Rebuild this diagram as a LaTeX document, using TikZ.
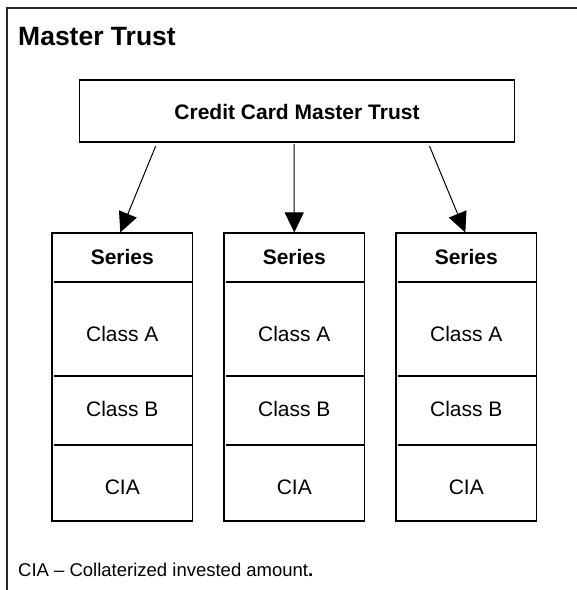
\documentclass[tikz,border=0pt]{standalone}
\usepackage{fontspec}
\setmainfont{Liberation Sans}
\usetikzlibrary{arrows.meta}
\begin{document}
\begin{tikzpicture}[x=1pt,y=-1pt,
  line width=1pt,
  frame/.style={line width=1.3pt, draw=black!85},
  boxstyle/.style={draw, line width=1.1pt, inner sep=0pt},
  hdr/.style={font=\fontsize{21}{25}\selectfont\bfseries, inner sep=0pt, anchor=base},
  cell/.style={font=\fontsize{21}{25}\selectfont, inner sep=0pt, anchor=base},
  arr/.style={-{Triangle[length=20pt,width=19pt]}, line width=1pt},
  divider/.style={line width=1.1pt}]
\useasboundingbox (0,0) rectangle (577,590);
% outer frame (top and left)
\coordinate (ftr) at (577,8);
\coordinate (ftl) at (7,8);
\coordinate (fbl) at (7,590);
\draw[frame] (ftr) -- (ftl) -- (fbl);
% title
\node[font=\fontsize{26.5}{30}\selectfont\bfseries, inner sep=0pt, anchor=base west] (title) at (17.7,45) {Master Trust};
% top box
\node[boxstyle, minimum width=435pt, minimum height=62pt] (top) at (297,111) {};
\node[hdr] (toptext) at (297,119) {Credit Card Master Trust};
% series boxes
\foreach \i/\cx in {1/122.3, 2/294.3, 3/466.3}{
  \node[boxstyle, minimum width=140.7pt, minimum height=288pt] (b\i) at (\cx,377) {};
  \node[hdr] (s\i) at (\cx,264.3) {Series};
  \node[cell] (ca\i) at (\cx,341) {Class A};
  \node[cell] (cb\i) at (\cx,416.7) {Class B};
  \node[cell] (ci\i) at (\cx,494.3) {CIA};
  \draw[divider] ([xshift=3pt]b\i.west |- 0,282) -- ([xshift=-1.5pt]b\i.east |- 0,282);
  \draw[divider] ([xshift=3pt]b\i.west |- 0,376) -- ([xshift=-1.5pt]b\i.east |- 0,376);
  \draw[divider] ([xshift=3pt]b\i.west |- 0,445) -- ([xshift=-1.5pt]b\i.east |- 0,445);
}
% arrows
\coordinate (a1) at (155.7,146);
\coordinate (a2) at (294,144);
\coordinate (a3) at (429.5,146);
\draw[arr] (a1) -- ([xshift=-2pt]b1.north);
\draw[arr] (a2) -- (b2.north);
\draw[arr] (a3) -- ([xshift=-1pt]b3.north);
% footnote
\node[font=\fontsize{18.5}{22}\selectfont, inner sep=0pt, anchor=base west] (foot) at (17.7,576) {CIA -- Collaterized invested amount{\bfseries .}};
\end{tikzpicture}
\end{document}
